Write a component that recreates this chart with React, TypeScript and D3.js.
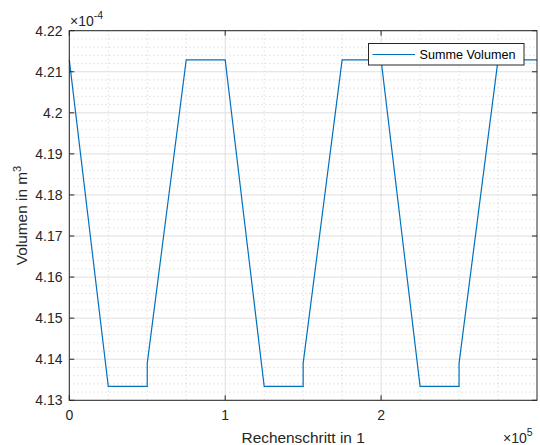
import * as d3 from 'd3';
import React, { useEffect, useRef } from 'react';

// Rechenschritt (steps) and summed volume (in 1e-4 m^3)
const steps = [0, 25000, 50000, 50000, 75000, 100000, 125000, 150000, 150000, 175000, 200000, 225000, 250000, 250000, 275000, 300000];
const volumen = [4.2129, 4.1334, 4.1334, 4.139, 4.2129, 4.2129, 4.1334, 4.1334, 4.139, 4.2129, 4.2129, 4.1334, 4.1334, 4.139, 4.2129, 4.2129];
const xTicks = [0, 100000, 200000];
const yTicks = [4.13, 4.14, 4.15, 4.16, 4.17, 4.18, 4.19, 4.2, 4.21, 4.22];
const seriesName = 'Summe Volumen';

const W = 540;
const H = 445;
const FONT = "'Liberation Sans', Arial, Helvetica, sans-serif";

export default function App() {
    const ref = useRef<SVGSVGElement>(null);

    useEffect(() => {
        const svg = d3.select(ref.current);
        svg.selectAll('*').remove();

        const left = 69.3, right = 537, top = 30.7, bottom = 400.3;
        const x = d3.scaleLinear().domain([0, 300000]).range([left, right]);
        const y = d3.scaleLinear().domain([4.13, 4.22]).range([bottom, top]);

        svg.append('rect').attr('width', W).attr('height', H).attr('fill', '#fff');

        const grid = svg.append('g');
        // minor grid
        const xMinor = d3.range(0, 300001, 25000).filter(v => v % 100000 !== 0);
        const yMinor = d3.range(4130, 4221, 2).map(v => v / 1000).filter((v, i) => i % 5 !== 0);
        grid.selectAll('line.xm').data(xMinor).enter().append('line')
            .attr('x1', d => x(d)).attr('x2', d => x(d))
            .attr('y1', top).attr('y2', bottom)
            .attr('stroke', '#c4c4c4').attr('stroke-width', 0.8)
            .attr('stroke-dasharray', '1,3');
        grid.selectAll('line.ym').data(yMinor).enter().append('line')
            .attr('x1', left).attr('x2', right)
            .attr('y1', d => y(d)).attr('y2', d => y(d))
            .attr('stroke', '#c4c4c4').attr('stroke-width', 0.8)
            .attr('stroke-dasharray', '1,3');
        // major grid
        grid.selectAll('line.xg').data(xTicks).enter().append('line')
            .attr('x1', d => x(d)).attr('x2', d => x(d))
            .attr('y1', top).attr('y2', bottom)
            .attr('stroke', '#dfdfdf').attr('stroke-width', 1);
        grid.selectAll('line.yg').data(yTicks).enter().append('line')
            .attr('x1', left).attr('x2', right)
            .attr('y1', d => y(d)).attr('y2', d => y(d))
            .attr('stroke', '#dfdfdf').attr('stroke-width', 1);

        // data line
        const line = d3.line<number>()
            .x((d, i) => x(steps[i]))
            .y(d => y(d));
        svg.append('path')
            .datum(volumen)
            .attr('d', line)
            .attr('fill', 'none')
            .attr('stroke', '#0072BD')
            .attr('stroke-width', 1.2);

        // box and ticks
        const ax = svg.append('g').attr('stroke', '#262626').attr('stroke-width', 1);
        ax.append('rect')
            .attr('x', left).attr('y', top)
            .attr('width', right - left).attr('height', bottom - top)
            .attr('fill', 'none');
        xTicks.forEach(t => {
            ax.append('line').attr('x1', x(t)).attr('x2', x(t)).attr('y1', bottom).attr('y2', bottom - 5);
            ax.append('line').attr('x1', x(t)).attr('x2', x(t)).attr('y1', top).attr('y2', top + 5);
        });
        yTicks.forEach(t => {
            ax.append('line').attr('x1', left).attr('x2', left + 5).attr('y1', y(t)).attr('y2', y(t));
            ax.append('line').attr('x1', right).attr('x2', right - 5).attr('y1', y(t)).attr('y2', y(t));
        });

        // tick labels
        const txt = svg.append('g').attr('font-family', FONT).attr('fill', '#262626');
        txt.selectAll('text.xt').data(xTicks).enter().append('text')
            .attr('x', d => x(d)).attr('y', 420)
            .attr('text-anchor', 'middle').attr('font-size', 14)
            .text(d => String(d / 100000));
        txt.selectAll('text.yt').data(yTicks).enter().append('text')
            .attr('x', 62.5).attr('y', d => y(d) + 5)
            .attr('text-anchor', 'end').attr('font-size', 14)
            .text(d => String(+d.toFixed(2)));

        // exponents
        const ey = txt.append('text').attr('x', 70).attr('y', 26).attr('font-size', 14);
        ey.append('tspan').text('\u00d710');
        ey.append('tspan').attr('dy', -7).attr('font-size', 10.5).text('-4');
        const ex = txt.append('text').attr('x', 503).attr('y', 443).attr('font-size', 14);
        ex.append('tspan').text('\u00d710');
        ex.append('tspan').attr('dy', -7).attr('font-size', 10.5).text('5');

        // axis labels
        txt.append('text')
            .attr('x', (left + right) / 2).attr('y', 443)
            .attr('text-anchor', 'middle').attr('font-size', 15.4)
            .text('Rechenschritt in 1');
        const yl = txt.append('text')
            .attr('transform', `translate(27,${(top + bottom) / 2}) rotate(-90)`)
            .attr('text-anchor', 'middle').attr('font-size', 15.4);
        yl.append('tspan').text('Volumen in m');
        yl.append('tspan').attr('dy', -6).attr('font-size', 11).text('3');

        // legend
        const lg = svg.append('g');
        lg.append('rect')
            .attr('x', 368.5).attr('y', 43.5).attr('width', 155.5).attr('height', 21.5)
            .attr('fill', '#fff').attr('stroke', '#262626').attr('stroke-width', 1);
        lg.append('line')
            .attr('x1', 372.5).attr('x2', 415).attr('y1', 54.5).attr('y2', 54.5)
            .attr('stroke', '#0072BD').attr('stroke-width', 1.2);
        lg.append('text')
            .attr('x', 419.5).attr('y', 59)
            .attr('font-family', FONT).attr('font-size', 12.6).attr('fill', '#000')
            .text(seriesName);
    }, []);

    return (
        <svg ref={ref} width={W} height={H}
            style={{ position: 'absolute', left: 0, top: 0, background: '#fff' }} />
    );
}
